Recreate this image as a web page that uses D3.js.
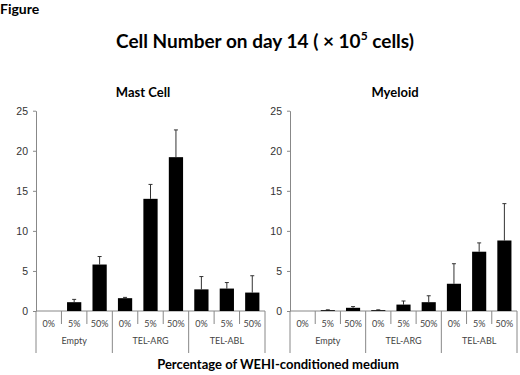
<!DOCTYPE html>
<html>
<head>
<meta charset="utf-8">
<script src="https://cdn.jsdelivr.net/npm/d3@7"></script>
<style>
  body { margin: 0; background: #fff; }
  svg { display: block; font-family: Lato, "Open Sans", sans-serif; }
</style>
</head>
<body>
<svg id="chart"></svg>
<script>
(() => {
  const width = 520, height = 375;

  const groups = ["Empty", "TEL-ARG", "TEL-ABL"];
  const media = ["0%", "5%", "50%"];
  const yTicks = [0, 5, 10, 15, 20, 25];

  // values in the order Empty(0,5,50), TEL-ARG(0,5,50), TEL-ABL(0,5,50)
  const mastMeans = [0, 1.1, 5.8, 1.6, 14.0, 19.2, 2.7, 2.8, 2.3];
  const mastErrors = [0, 0.35, 1.0, 0.1, 1.8, 3.4, 1.6, 0.75, 2.1];
  const myeloidMeans = [0, 0.1, 0.4, 0.1, 0.8, 1.1, 3.4, 7.4, 8.8];
  const myeloidErrors = [0, 0.05, 0.15, 0.05, 0.45, 0.8, 2.5, 1.1, 4.6];

  const svg = d3.select("#chart")
    .attr("width", width)
    .attr("height", height);

  svg.append("text")
    .attr("x", 0).attr("y", 14)
    .attr("font-size", 14).attr("font-weight", "bold")
    .text("Figure");

  const title = svg.append("text")
    .attr("x", 265).attr("y", 48)
    .attr("text-anchor", "middle")
    .attr("font-size", 19).attr("font-weight", "bold");
  title.append("tspan").text("Cell Number on day 14 ( \u00d7 10");
  title.append("tspan").attr("font-size", 12).attr("dy", -8).text("5");
  title.append("tspan").attr("dy", 8).text(" cells)");

  svg.append("text")
    .attr("x", 278).attr("y", 369)
    .attr("text-anchor", "middle")
    .attr("font-size", 13).attr("font-weight", "bold")
    .text("Percentage of WEHI-conditioned medium");

  const cats = [];
  groups.forEach(g => media.forEach(m => cats.push({ group: g, medium: m })));

  const y = d3.scaleLinear().domain([0, 25]).range([311, 110.7]);

  function panel(name, left, right, means, errors, titleX) {
    const g = svg.append("g");
    const x = d3.scaleBand()
      .domain(d3.range(cats.length))
      .range([left, right])
      .paddingInner(0.44)
      .paddingOuter(0.22);
    const step = (right - left) / cats.length;

    g.append("text")
      .attr("x", titleX).attr("y", 97)
      .attr("text-anchor", "middle")
      .attr("font-size", 13).attr("font-weight", "bold")
      .text(name);

    const yAxis = g.append("g")
      .attr("transform", `translate(${left},0)`)
      .call(d3.axisLeft(y).tickValues(yTicks).tickSize(3).tickSizeOuter(0));
    yAxis.select(".domain").attr("stroke", "#888");
    yAxis.selectAll(".tick line").attr("stroke", "#888");
    yAxis.selectAll(".tick text")
      .attr("font-size", 10.5).attr("fill", "#333").attr("x", -8);

    // multi-level category axis
    g.append("line")
      .attr("x1", left).attr("x2", right)
      .attr("y1", y(0)).attr("y2", y(0))
      .attr("stroke", "#888");
    d3.range(cats.length + 1).forEach(i => {
      const xx = left + i * step;
      const long = i % 3 === 0;
      g.append("line")
        .attr("x1", xx).attr("x2", xx)
        .attr("y1", y(0)).attr("y2", long ? 353 : 324)
        .attr("stroke", "#888");
    });

    g.selectAll(".cat")
      .data(cats)
      .join("text")
      .attr("x", (d, i) => left + (i + 0.5) * step)
      .attr("y", 327)
      .attr("text-anchor", "middle")
      .attr("font-size", 9).attr("fill", "#444")
      .text(d => d.medium);

    g.selectAll(".grp")
      .data(groups)
      .join("text")
      .attr("x", (d, i) => left + (i * 3 + 1.5) * step)
      .attr("y", 344)
      .attr("text-anchor", "middle")
      .attr("font-size", 9).attr("fill", "#444")
      .text(d => d);

    // error bars (upper only), skipped where there is none
    const withErr = means.map((d, i) => ({ i, m: d, e: errors[i] })).filter(d => d.e > 0);
    g.selectAll(".err")
      .data(withErr)
      .join("line")
      .attr("x1", d => x(d.i) + x.bandwidth() / 2)
      .attr("x2", d => x(d.i) + x.bandwidth() / 2)
      .attr("y1", d => y(d.m))
      .attr("y2", d => y(d.m + d.e))
      .attr("stroke", "#333").attr("stroke-width", 1);
    g.selectAll(".cap")
      .data(withErr)
      .join("line")
      .attr("x1", d => x(d.i) + x.bandwidth() / 2 - 2)
      .attr("x2", d => x(d.i) + x.bandwidth() / 2 + 2)
      .attr("y1", d => y(d.m + d.e))
      .attr("y2", d => y(d.m + d.e))
      .attr("stroke", "#333").attr("stroke-width", 1);

    g.selectAll(".bar")
      .data(means.filter(d => d > 0).length ? means : [])
      .join("rect")
      .attr("x", (d, i) => x(i))
      .attr("y", d => y(d))
      .attr("width", x.bandwidth())
      .attr("height", d => y(0) - y(d))
      .attr("fill", "#000");
  }

  panel("Mast Cell", 36, 265, mastMeans, mastErrors, 143);
  panel("Myeloid", 290, 517, myeloidMeans, myeloidErrors, 395);
})();
</script>
</body>
</html>
